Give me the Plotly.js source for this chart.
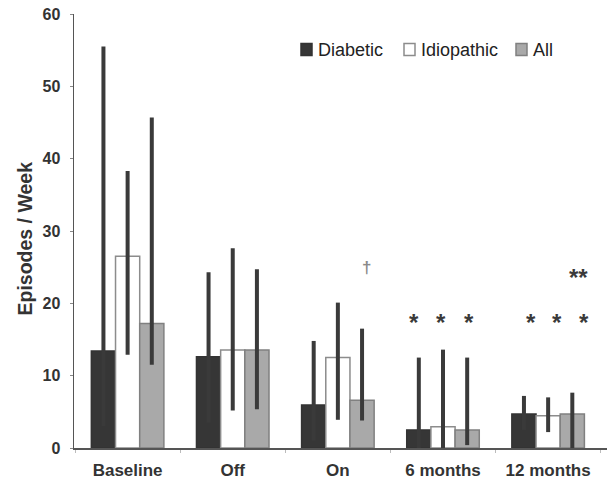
<!DOCTYPE html>
<html>
<head>
<meta charset="utf-8">
<script src="https://cdn.plot.ly/plotly-3.0.1.min.js"></script>
<style>html,body{margin:0;padding:0;background:#fff;}#chart{width:610px;height:481px;}</style>
</head>
<body>
<div id="chart"></div>
<script>
// ---- data ----
var categories = ['Baseline', 'Off', 'On', '6 months', '12 months'];
var seriesNames = ['Diabetic', 'Idiopathic', 'All'];
var diabetic     = [13.4, 12.6, 5.95, 2.5, 4.7];
var diabeticHigh = [55.5, 24.3, 14.8, 12.5, 7.2];
var diabeticLow  = [3.0, 3.5, 1.0, 0.0, 2.5];
var idiopathic     = [26.5, 13.55, 12.5, 2.95, 4.45];
var idiopathicHigh = [38.3, 27.6, 20.1, 13.6, 7.0];
var idiopathicLow  = [12.9, 5.2, 3.9, 0.0, 2.2];
var allPts     = [17.2, 13.55, 6.6, 2.5, 4.7];
var allHigh    = [45.7, 24.7, 16.5, 12.5, 7.65];
var allLow     = [11.5, 5.35, 3.8, 0.4, 0.0];
var yTickVals  = [0, 10, 20, 30, 40, 50, 60];
// significance marks: category index, series index, symbol, level (value)
var markCat   = [2, 3, 3, 3, 4, 4, 4, 4];
var markSer   = [2, 0, 1, 2, 0, 1, 2, 2];
var markText  = ['†', '*', '*', '*', '*', '*', '*', '**'];
var markLevel = [24.9, 18.2, 18.2, 18.2, 18.2, 18.2, 18.2, 24.4];

// ---- style ----
var markShift = [4, -5, -2, 2, 7, 9, 12, 6];

function diff(a, b) { return a.map(function (v, i) { return Math.max(0, v - b[i]); }); }

var errColor = '#3a3a3a';
function mkTrace(name, vals, hi, lo, fill, line) {
  return {
    type: 'bar', name: name, x: categories, y: vals,
    marker: {color: fill, line: {color: line, width: 1.5}},
    error_y: {type: 'data', symmetric: false, array: diff(hi, vals), arrayminus: diff(vals, lo),
              color: errColor, thickness: 4, width: 0},
    showlegend: false, hoverinfo: 'skip'
  };
}

var fills = ['#363636', '#ffffff', '#a9a9a9'];
var lines = ['#333333', '#8c8c8c', '#808080'];
var traces = [
  mkTrace(seriesNames[0], diabetic, diabeticHigh, diabeticLow, fills[0], lines[0]),
  mkTrace(seriesNames[1], idiopathic, idiopathicHigh, idiopathicLow, fills[1], lines[1]),
  mkTrace(seriesNames[2], allPts, allHigh, allLow, fills[2], lines[2])
];

var font = 'Liberation Sans, Arial, Helvetica, sans-serif';
var L = 74, R = 607, T = 14, B = 448, W = 610, H = 481;
var bargap = 0.31;
var groupW = 1 - bargap;

var annotations = markText.map(function (t, i) {
  var off = (markSer[i] - 1) * groupW / 3;
  var isDagger = t === '†';
  return {
    xref: 'x', yref: 'y', x: markCat[i] + off, y: markLevel[i], text: t,
    showarrow: false, xanchor: 'center', yanchor: 'middle',
    xshift: markShift[i], yshift: isDagger ? 0 : -6,
    font: {family: font, size: isDagger ? 17 : 24, color: isDagger ? '#8a8a8a' : '#3a3a3a', weight: 'bold'}
  };
});

// legend drawn as swatches + text (paper coords)
function px(x) { return (x - L) / (R - L); }
function py(y) { return (B - y) / (B - T); }
var legX = [301, 404, 516];
var legY = 49.5;
var shapes = [];
seriesNames.forEach(function (n, i) {
  shapes.push({type: 'rect', xref: 'paper', yref: 'paper',
    x0: px(legX[i]), x1: px(legX[i] + 11), y0: py(legY + 6), y1: py(legY - 6),
    fillcolor: fills[i], line: {color: lines[i], width: 1.5}});
  annotations.push({xref: 'paper', yref: 'paper', x: px(legX[i] + 15), y: py(legY),
    text: n, showarrow: false, xanchor: 'left', yanchor: 'middle',
    font: {family: font, size: 18, color: '#222'}});
});
// y axis title
annotations.push({xref: 'paper', yref: 'paper', x: px(25), y: py(238.5), text: 'Episodes / Week',
  textangle: -90, showarrow: false, xanchor: 'center', yanchor: 'middle',
  font: {family: font, size: 19.5, color: '#333', weight: 'bold'}});

var layout = {
  width: W, height: H,
  margin: {l: L, r: W - R, t: T, b: H - B, pad: 0},
  paper_bgcolor: '#fff', plot_bgcolor: '#fff',
  barmode: 'group', bargap: bargap, bargroupgap: 0,
  xaxis: {
    type: 'category', range: [-0.51, 4.56], showgrid: false, zeroline: false,
    showline: true, linecolor: '#555', linewidth: 1.5,
    ticks: 'outside', tickson: 'boundaries', ticklen: 3, tickcolor: '#bbb',
    tickfont: {family: font, size: 17, color: '#333', weight: 'bold'}, ticklabelstandoff: 6
  },
  yaxis: {
    range: [0, 60], tickvals: yTickVals, showgrid: false, zeroline: false,
    showline: true, linecolor: '#555', linewidth: 1.5,
    ticks: 'outside', ticklen: 3, tickcolor: '#888',
    tickfont: {family: font, size: 16, color: '#333', weight: 'bold'}, ticklabelstandoff: 6
  },
  annotations: annotations, shapes: shapes,
  font: {family: font}
};

Plotly.newPlot('chart', traces, layout, {staticPlot: true, displayModeBar: false});
</script>
</body>
</html>
